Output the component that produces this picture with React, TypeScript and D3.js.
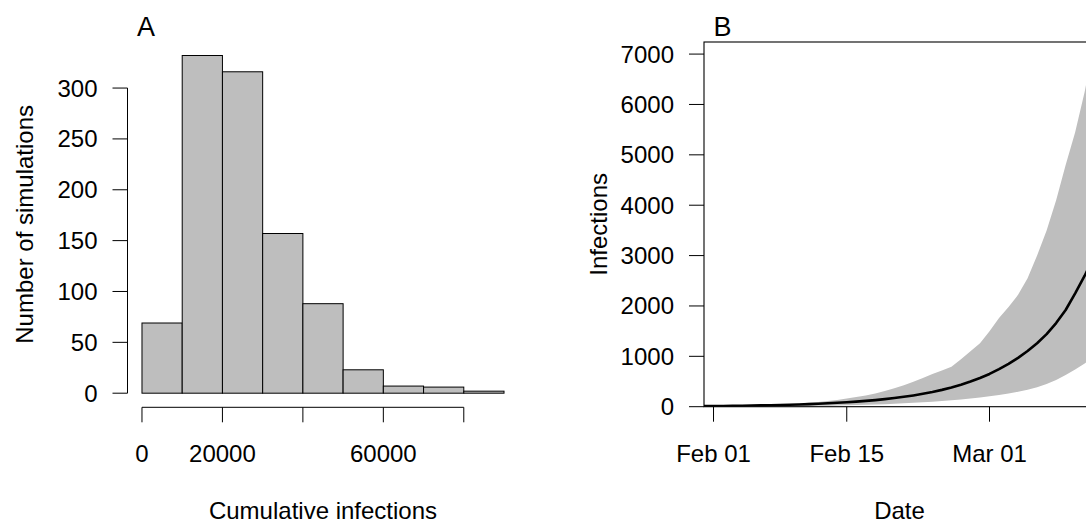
import React from "react";
import * as d3 from "d3";

// ---------- Panel A data (histogram) ----------
const binBreaks = [0, 10000, 20000, 30000, 40000, 50000, 60000, 70000, 80000, 90000];
const binCounts = [69, 332, 316, 157, 88, 23, 7, 6, 2];
const xTicksA = [0, 20000, 40000, 60000, 80000];
const xTickLabelsA = ["0", "20000", "", "60000", ""];
const yTicksA = [0, 50, 100, 150, 200, 250, 300];

// ---------- Panel B data (daily infections) ----------
const startDate = "2020-01-31";
const medianInfections = [
  11, 13, 15, 17, 20, 23, 26, 30, 34, 39, 45, 51, 59, 67, 77, 88, 100, 115, 131, 150, 172,
  196, 224, 256, 292, 334, 382, 437, 500, 570, 650, 745, 850, 970, 1105, 1260, 1440, 1660,
  1920, 2250, 2600, 2990,
];
const upperInfections = [
  13, 15, 18, 21, 25, 29, 34, 40, 47, 55, 65, 80, 95, 113, 135, 165, 195, 220, 262, 310, 365,
  425, 495, 570, 650, 720, 795, 940, 1100, 1260, 1500, 1760, 1980, 2220, 2550, 3000, 3500,
  4100, 4800, 5450, 6250, 7240,
];
const lowerInfections = [
  5, 5, 6, 6, 7, 8, 9, 10, 11, 12, 14, 16, 18, 21, 24, 28, 33, 38, 44, 51, 59, 68, 78, 89,
  100, 113, 128, 145, 163, 183, 205, 230, 260, 295, 335, 385, 450, 530, 630, 740, 860, 1000,
];
const xTickDatesB = ["2020-02-01", "2020-02-15", "2020-03-01"];
const yTicksB = [0, 1000, 2000, 3000, 4000, 5000, 6000, 7000];

const FONT = "'Liberation Sans', Arial, Helvetica, sans-serif";

export default function App() {
  const W = 1086;
  const H = 523;
  const top = 42;
  const bottom = 406.7;
  const plotW = 391;

  // ---- Panel A scales ----
  const aLeft = 127.5;
  const pad = (binBreaks[binBreaks.length - 1] - binBreaks[0]) * 0.04;
  const xA = d3
    .scaleLinear()
    .domain([binBreaks[0] - pad, binBreaks[binBreaks.length - 1] + pad])
    .range([aLeft, aLeft + plotW]);
  const maxCount = d3.max(binCounts) as number;
  const yA = d3
    .scaleLinear()
    .domain([-maxCount * 0.04, maxCount * 1.04])
    .range([bottom, top]);

  // ---- Panel B scales ----
  const parse = d3.utcParse("%Y-%m-%d");
  const d0 = parse(startDate) as Date;
  const dates = medianInfections.map((_, i) => d3.utcDay.offset(d0, i));
  const bLeft = 704;
  const xB = d3
    .scaleUtc()
    .domain([dates[0], dates[dates.length - 1]])
    .range([bLeft, bLeft + (dates.length - 1) * 9.517]);
  const yB = d3
    .scaleLinear()
    .domain([0, d3.max(upperInfections) as number])
    .range([bottom, top]);

  const area = d3
    .area<number>()
    .x((_, i) => xB(dates[i]))
    .y0((_, i) => yB(lowerInfections[i]))
    .y1((_, i) => yB(upperInfections[i]));
  const line = d3
    .line<number>()
    .x((_, i) => xB(dates[i]))
    .y((d) => yB(d));
  const fmt = d3.utcFormat("%b %d");

  const tickLen = 15;
  const fs = 24;

  return (
    <svg
      width={W}
      height={H}
      style={{ position: "absolute", left: 0, top: 0, background: "#fff" }}
      fontFamily={FONT}
    >
      <defs>
        <clipPath id="clipB">
          <rect x={bLeft} y={top} width={plotW} height={bottom - top} />
        </clipPath>
      </defs>

      {/* ================= Panel A ================= */}
      <g>
        {binCounts.map((c, i) => (
          <rect
            key={i}
            x={xA(binBreaks[i])}
            y={yA(c)}
            width={xA(binBreaks[i + 1]) - xA(binBreaks[i])}
            height={yA(0) - yA(c)}
            fill="#BEBEBE"
            stroke="#000"
            strokeWidth={1}
          />
        ))}
        {/* y axis */}
        <line
          x1={aLeft}
          x2={aLeft}
          y1={yA(yTicksA[0])}
          y2={yA(yTicksA[yTicksA.length - 1])}
          stroke="#000"
        />
        {yTicksA.map((t) => (
          <g key={t}>
            <line x1={aLeft - tickLen} x2={aLeft} y1={yA(t)} y2={yA(t)} stroke="#000" />
            <text x={97.5} y={yA(t) + 8.5} textAnchor="end" fontSize={fs}>
              {t}
            </text>
          </g>
        ))}
        {/* x axis */}
        <line
          x1={xA(xTicksA[0])}
          x2={xA(xTicksA[xTicksA.length - 1])}
          y1={bottom + 0.6}
          y2={bottom + 0.6}
          stroke="#000"
        />
        {xTicksA.map((t, i) => (
          <g key={t}>
            <line
              x1={xA(t)}
              x2={xA(t)}
              y1={bottom + 0.6}
              y2={bottom + 0.6 + tickLen}
              stroke="#000"
            />
            <text x={xA(t)} y={461.7} textAnchor="middle" fontSize={fs}>
              {xTickLabelsA[i]}
            </text>
          </g>
        ))}
        <text x={xA(45000)} y={518.5} textAnchor="middle" fontSize={fs}>
          Cumulative infections
        </text>
        <text
          transform={`translate(32.7, ${(top + bottom) / 2}) rotate(-90)`}
          textAnchor="middle"
          fontSize={fs}
        >
          Number of simulations
        </text>
        <text x={aLeft + 9.5} y={36} fontSize={27}>
          A
        </text>
      </g>

      {/* ================= Panel B ================= */}
      <g>
        <g clipPath="url(#clipB)">
          <path d={area(medianInfections) ?? ""} fill="#BEBEBE" stroke="none" />
          <path
            d={line(medianInfections) ?? ""}
            fill="none"
            stroke="#000"
            strokeWidth={2.6}
            strokeLinejoin="round"
          />
        </g>
        <rect
          x={bLeft}
          y={top}
          width={plotW}
          height={bottom - top}
          fill="none"
          stroke="#000"
          strokeWidth={1.1}
        />
        {yTicksB.map((t) => (
          <g key={t}>
            <line x1={bLeft - tickLen} x2={bLeft} y1={yB(t)} y2={yB(t)} stroke="#000" />
            <text x={674} y={yB(t) + 8.5} textAnchor="end" fontSize={fs}>
              {t}
            </text>
          </g>
        ))}
        {xTickDatesB.map((s) => {
          const d = parse(s) as Date;
          return (
            <g key={s}>
              <line
                x1={xB(d)}
                x2={xB(d)}
                y1={bottom}
                y2={bottom + tickLen}
                stroke="#000"
              />
              <text x={xB(d)} y={461.7} textAnchor="middle" fontSize={fs}>
                {fmt(d)}
              </text>
            </g>
          );
        })}
        <text x={bLeft + plotW / 2} y={518.5} textAnchor="middle" fontSize={fs}>
          Date
        </text>
        <text
          transform={`translate(607.3, ${(top + bottom) / 2}) rotate(-90)`}
          textAnchor="middle"
          fontSize={fs}
        >
          Infections
        </text>
        <text x={bLeft + 9.5} y={36} fontSize={27}>
          B
        </text>
      </g>
    </svg>
  );
}
